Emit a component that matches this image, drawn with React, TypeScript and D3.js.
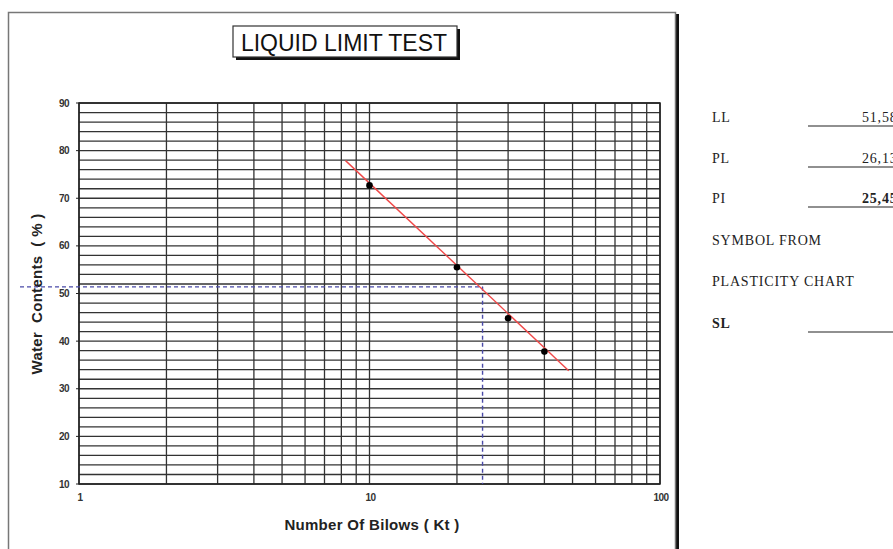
import React from "react";
import * as d3 from "d3";

const blows = [10, 20, 30, 40];
const waterContents = [72.7, 55.5, 44.8, 37.8];
const fitBlows = [8.27, 48.5];
const fitWater = [77.9, 33.8];
const liquidLimit = 51.4;
const blowsAtLL = 24.5;
const yTicks = [10, 20, 30, 40, 50, 60, 70, 80, 90];
const xTickLabels = [1, 10, 100];
const infoLabels = ["LL", "PL", "PI", "SYMBOL FROM", "PLASTICITY CHART", "SL"];
const infoValues = ["51,58", "26,13", "25,45", "", "", ""];

export default function App() {
  const W = 893, H = 549;
  const x = d3.scaleLog().domain([1, 100]).range([79, 660]);
  const y = d3.scaleLinear().domain([10, 90]).range([484, 103]);

  const xGrid: number[] = [];
  for (let d = 1; d <= 10; d *= 10) for (let k = 1; k <= 9; k++) xGrid.push(k * d);
  xGrid.push(100);
  const yGrid = d3.range(10, 91, 2);

  const line = d3.line<number>().x((_, i) => x(fitBlows[i])).y((v) => y(v));
  const sans = "Liberation Sans, Arial, sans-serif";
  const serif = "Liberation Serif, Times New Roman, serif";
  const infoY = [117, 158, 198, 240, 281, 323];

  return (
    <svg width={W} height={H} style={{ position: "absolute", left: 0, top: 0, background: "#fff" }}>
      {/* frame */}
      <rect x={0} y={0} width={W} height={H} fill="#fff" />
      <line x1={677.5} y1={14} x2={677.5} y2={H} stroke="#111" strokeWidth={3} />
      <path d={`M8.5,${H} V12.5 H675.5 V${H}`} fill="none" stroke="#777" strokeWidth={1.5} />

      {/* title */}
      <rect x={236} y={29} width={224} height={31} fill="#111" />
      <rect x={233} y={26} width={224} height={31} fill="#fff" stroke="#333" strokeWidth={1.2} />
      <text x={344} y={51} textAnchor="middle" fontFamily={sans} fontSize={23} fill="#111">LIQUID LIMIT TEST</text>

      {/* grid */}
      {yGrid.map((v) => (
        <line key={"h" + v} x1={79} x2={660} y1={y(v)} y2={y(v)} stroke="#333" strokeWidth={1.3} />
      ))}
      {xGrid.map((v) => (
        <line key={"v" + v} x1={x(v)} x2={x(v)} y1={103} y2={484} stroke="#333" strokeWidth={1.3} />
      ))}
      <rect x={79} y={103} width={581} height={381} fill="none" stroke="#222" strokeWidth={1.5} />
      {yTicks.map((v) => (
        <line key={"t" + v} x1={76} x2={79} y1={y(v)} y2={y(v)} stroke="#222" strokeWidth={1} />
      ))}

      {/* y tick labels */}
      {yTicks.map((v) => (
        <text key={"yl" + v} x={69} y={y(v) + 3.5} textAnchor="end" fontFamily={sans} fontSize={10} fontWeight="bold" fill="#333" letterSpacing={-0.6}>{v}</text>
      ))}
      {xTickLabels.map((v) => (
        <text key={"xl" + v} x={x(v) + 1} y={501} textAnchor="middle" fontFamily={sans} fontSize={10} fontWeight="bold" fill="#333" letterSpacing={-0.6}>{v}</text>
      ))}

      {/* axis titles */}
      <text x={372} y={530} textAnchor="middle" fontFamily={sans} fontSize={15} fontWeight="bold" fill="#222" letterSpacing={0.3}>Number Of Bilows ( Kt )</text>
      <text transform={`translate(42,294) rotate(-90)`} textAnchor="middle" fontFamily={sans} fontSize={15} fontWeight="bold" fill="#222" letterSpacing={0.3} style={{ whiteSpace: "pre" }}>{"Water  Contents  ( % )"}</text>

      {/* LL dashed guides */}
      <line x1={20} x2={x(blowsAtLL)} y1={y(liquidLimit)} y2={y(liquidLimit)} stroke="#4a4aa8" strokeWidth={1.4} strokeDasharray="4,3" />
      <line x1={x(blowsAtLL)} x2={x(blowsAtLL)} y1={y(liquidLimit)} y2={484} stroke="#4a4aa8" strokeWidth={1.4} strokeDasharray="4,3" />

      {/* fit line */}
      <path d={line(fitWater) || ""} fill="none" stroke="#f04848" strokeWidth={1.4} />

      {/* points */}
      {blows.map((b, i) => (
        <circle key={"p" + i} cx={x(b)} cy={y(waterContents[i])} r={3.3} fill="#000" />
      ))}

      {/* info panel */}
      {infoLabels.map((l, i) => (
        <text key={"il" + i} x={712} y={infoY[i] + 5} fontFamily={serif} fontSize={14} fontWeight={i === 5 ? "bold" : "normal"} fill="#222" letterSpacing={0.8}>{l}</text>
      ))}
      {infoValues.map((v, i) =>
        v ? (
          <text key={"iv" + i} x={862} y={infoY[i] + 5} fontFamily={serif} fontSize={14} fontWeight={i === 2 ? "bold" : "normal"} fill="#222" letterSpacing={0.8}>{v}</text>
        ) : null
      )}
      {[0, 1, 2, 5].map((i) => (
        <line key={"u" + i} x1={808} x2={W} y1={infoY[i] + 9} y2={infoY[i] + 9} stroke="#222" strokeWidth={1.2} />
      ))}
    </svg>
  );
}
